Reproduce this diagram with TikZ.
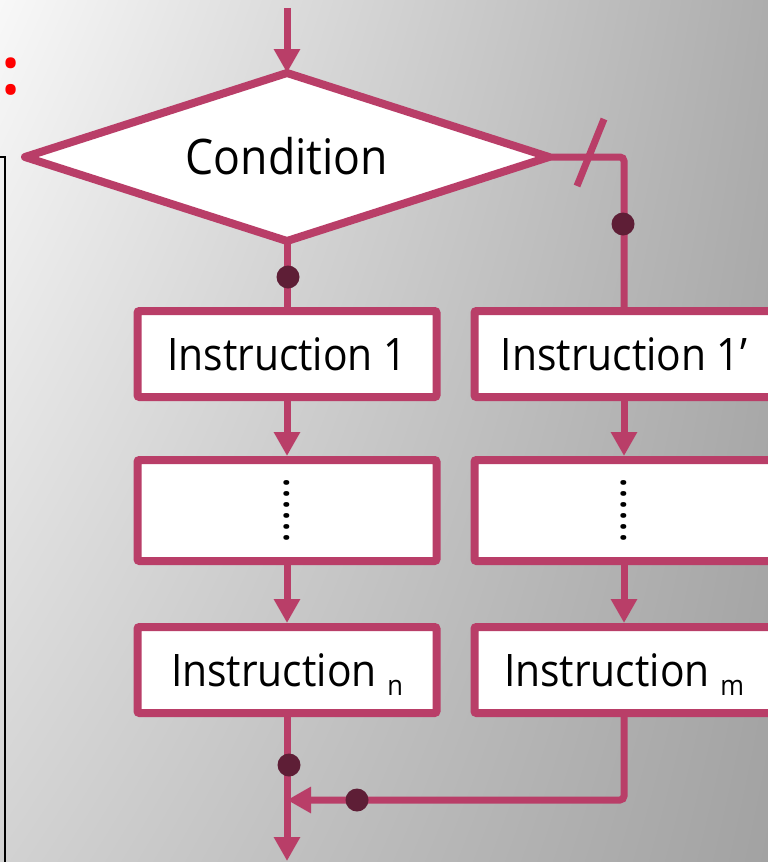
\documentclass[tikz,border=0pt]{standalone}
\usepackage{fontspec}
\setmainfont[FakeStretch=0.91]{Open Sans}
\usetikzlibrary{arrows.meta,shapes.geometric,shadings}

\definecolor{flow}{HTML}{B93E68}
\definecolor{jointfill}{HTML}{5E1E36}
\definecolor{bgul}{HTML}{F8F8F8}
\definecolor{bgur}{HTML}{ADADAD}
\definecolor{bgll}{HTML}{D2D2D2}
\definecolor{bglr}{HTML}{A2A2A2}

\newcommand{\mainsize}{\fontsize{44.8}{50}\selectfont}
\newcommand{\subidx}[1]{\raisebox{-9pt}{\fontsize{28}{28}\selectfont #1}}

\tikzset{
  stepbox/.style={draw=flow, line width=8pt, fill=white, rounded corners=2pt,
    minimum width=299pt, minimum height=86pt, inner sep=0pt,
    text height=32pt, text depth=0pt, font=\mainsize},
  testbox/.style={diamond, aspect=3.12, draw=flow, line width=8pt, line join=round, fill=white,
    minimum width=524pt, minimum height=168pt, inner sep=0pt, outer sep=0pt,
    text height=35pt, text depth=0pt, font=\fontsize{49}{54}\selectfont},
  flowline/.style={draw=flow, line width=7pt},
  flowarrow/.style={flowline, -{Triangle[width=25pt,length=24pt]}},
  jointdot/.style={circle, fill=jointfill, draw=none, minimum size=23pt, inner sep=0pt},
}

\begin{document}
\begin{tikzpicture}[x=1pt, y=-1pt]
  \useasboundingbox (0,0) rectangle (768,862);
  \clip (0,0) rectangle (768,862);

  % background
  \shade[upper left=bgul, upper right=bgur, lower left=bgll, lower right=bglr]
    (0,0) rectangle (768,862);

  % frame edge on the left
  \draw[line width=1.8pt] (-10,157) -- (5,157) -- (5,880);

  % red colon
  \node[text=red, font=\bfseries\fontsize{66}{66}\selectfont, inner sep=0pt, anchor=base]
    (colon) at (11,94.5) {:};

  % decision
  \node[testbox] (cond) at (287,157) {Condition};

  % left branch
  \node[stepbox] (a1) at (287,354) {Instruction 1};
  \node[stepbox, minimum height=101pt] (a2) at (287,510.5) {};
  \node[stepbox] (an) at (287,670) {Instruction \subidx{n}};

  % right branch
  \node[stepbox] (b1) at (624,354) {Instruction 1’};
  \node[stepbox, minimum height=101pt] (b2) at (624,510.5) {};
  \node[stepbox] (bm) at (624,670) {Instruction \subidx{m}};

  % vertical ellipses inside the middle boxes
  \node[rotate=-90, inner sep=0pt, text height=4.6pt, text depth=0pt, font=\mainsize]
    (ad) at (a2) {......};
  \node[rotate=-90, inner sep=0pt, text height=4.6pt, text depth=0pt, font=\mainsize]
    (bd) at (b2) {......};

  % connectors
  \coordinate (entry) at (287,8);
  \coordinate (exit) at (287,861);
  \coordinate (merge) at (287,800);

  \draw[flowarrow] (entry) -- (cond.north);
  \draw[flowline] (cond.south) -- (a1.north);
  \draw[flowline, rounded corners=4pt] (cond.east) -| (b1.north);
  \draw[flowarrow] (a1.south) -- (a2.north);
  \draw[flowarrow] (a2.south) -- (an.north);
  \draw[flowarrow] (b1.south) -- (b2.north);
  \draw[flowarrow] (b2.south) -- (bm.north);
  \draw[flowarrow] (an.south) -- (exit);
  \draw[flowarrow, rounded corners=4pt] (bm.south) |- (merge);

  % "false" mark on the right exit
  \draw[flowline] (604,119) -- (577,186);

  % junction dots
  \node[jointdot] (d1) at (288,277) {};
  \node[jointdot] (d2) at (623,224) {};
  \node[jointdot] (d3) at (289,765) {};
  \node[jointdot] (d4) at (357,800) {};
\end{tikzpicture}
\end{document}
